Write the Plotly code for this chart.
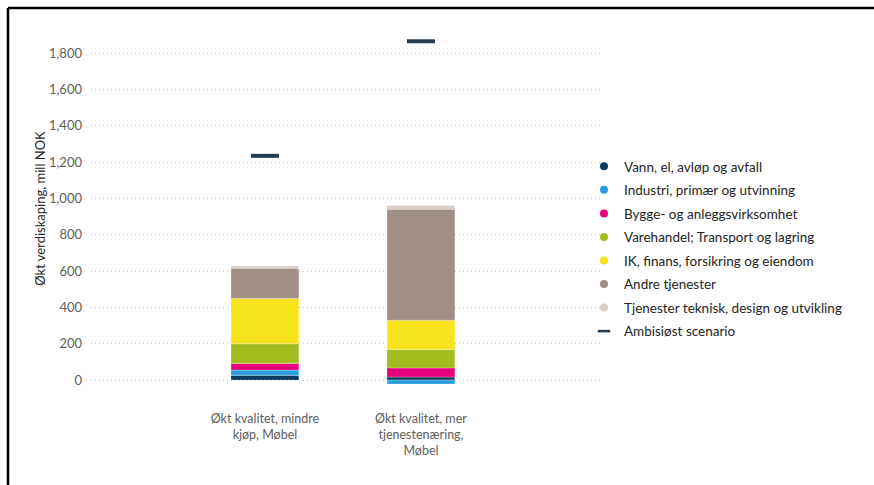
import plotly.graph_objects as go

# Scenario categories (x axis)
categories = [
    "Økt kvalitet, mindre<br>kjøp, Møbel",
    "Økt kvalitet, mer<br>tjenestenæring,<br>Møbel",
]

# Sector contributions, mill NOK (stacked)
sectors = [
    "Vann, el, avløp og avfall",
    "Industri, primær og utvinning",
    "Bygge- og anleggsvirksomhet",
    "Varehandel; Transport og lagring",
    "IK, finans, forsikring og eiendom",
    "Andre tjenester",
    "Tjenester teknisk, design og utvikling",
]
vann = [26, 17]
industri = [29, -22]
bygge = [37, 50]
varehandel = [108, 101]
ik_finans = [250, 162]
andre = [166, 611]
teknisk = [13, 20]
sector_values = [vann, industri, bygge, varehandel, ik_finans, andre, teknisk]

# Ambitious scenario total
ambisiost_name = "Ambisiøst scenario"
ambisiost = [1235, 1866]

y_ticks = [0, 200, 400, 600, 800, 1000, 1200, 1400, 1600, 1800]

colors = ["#0d3b5e", "#2b9fdd", "#e5007d", "#a3bd20", "#f6e31b",
          "#a08f85", "#d9cdc7"]
dash_color = "#263c4f"

FONT = "Lato, 'Open Sans', sans-serif"

fig = go.Figure()

for name, vals, col in zip(sectors, sector_values, colors):
    fig.add_trace(go.Bar(
        x=categories, y=vals, name=name, legendgroup=name,
        marker=dict(color=col, line=dict(color="rgba(255,255,255,0.5)", width=0.5)),
        width=0.435, showlegend=False,
    ))
    # round legend symbol
    fig.add_trace(go.Scatter(
        x=[None], y=[None], mode="markers", name=name, legendgroup=name,
        marker=dict(symbol="circle", size=8, color=col),
    ))

fig.add_trace(go.Scatter(
    x=categories, y=ambisiost, mode="markers", name=ambisiost_name,
    legendgroup=ambisiost_name, showlegend=False,
    marker=dict(symbol="line-ew", size=20,
                line=dict(color=dash_color, width=4)),
))
# short dash legend symbol
fig.add_trace(go.Scatter(
    x=[None], y=[None], mode="markers", name=ambisiost_name,
    legendgroup=ambisiost_name,
    marker=dict(symbol="line-ew", size=9,
                line=dict(color=dash_color, width=2.5)),
))

W, H = 874, 485
L, R, T, B = 91, 271, 26, 94
pw, ph = W - L - R, H - T - B


def px_x(x):
    return (x - L) / pw


def px_y(y):
    return (H - B - y) / ph


# frame lines along the top and left edge
fig.add_shape(type="line", xref="paper", yref="paper",
              x0=px_x(8), x1=px_x(880), y0=px_y(8), y1=px_y(8),
              line=dict(color="black", width=2.5))
fig.add_shape(type="line", xref="paper", yref="paper",
              x0=px_x(8), x1=px_x(8), y0=px_y(8), y1=px_y(490),
              line=dict(color="black", width=2.5))

fig.update_layout(
    width=W, height=H,
    margin=dict(l=L, r=R, t=T, b=B),
    barmode="relative",
    plot_bgcolor="white", paper_bgcolor="white",
    font=dict(family=FONT, size=13, color="#252423"),
    legend=dict(
        x=px_x(584), y=px_y(151), xanchor="left", yanchor="top",
        traceorder="grouped", tracegroupgap=3,
        font=dict(size=13.5, color="#252423"),
        bgcolor="rgba(0,0,0,0)",
    ),
    xaxis=dict(
        range=[-1.115, 2.167], showgrid=False, zeroline=False,
        showline=False, ticks="", ticklabelstandoff=18,
        tickfont=dict(size=12.5, color="#605e5c"),
    ),
    yaxis=dict(
        range=[-60, 1950], tickvals=y_ticks, tickformat=",",
        showgrid=True, gridcolor="#b9cbd9", griddash="1px,3px", gridwidth=1,
        zeroline=False, showline=False, ticks="", ticklabelstandoff=8,
        tickfont=dict(size=13, color="#605e5c"),
        title=dict(text="Økt verdiskaping, mill NOK", standoff=0,
                   font=dict(size=13, color="#252423")),
    ),
)

fig.write_html("out.html")
